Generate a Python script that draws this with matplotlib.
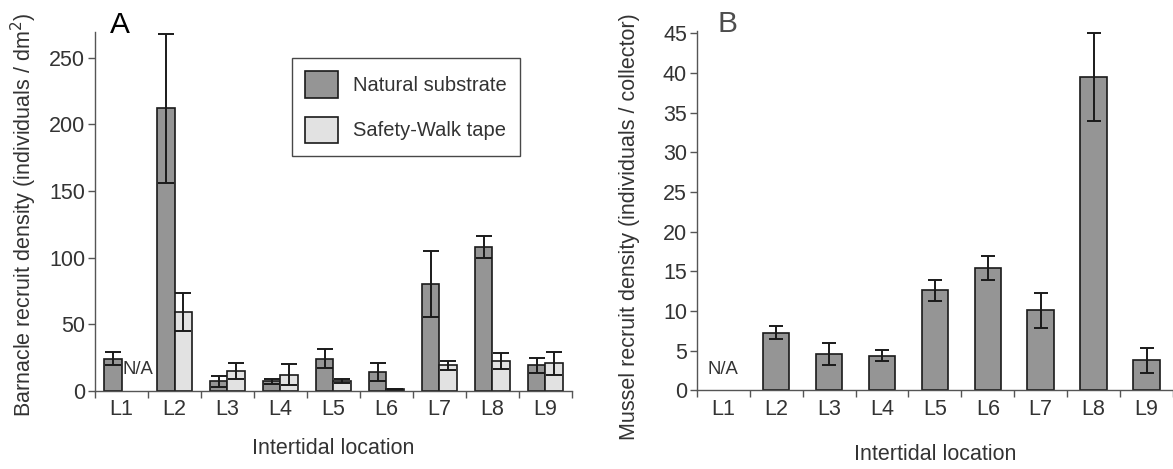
import numpy as np
import matplotlib
matplotlib.use("Agg")
import matplotlib.pyplot as plt

plt.rcParams['font.family'] = ['Liberation Sans', 'DejaVu Sans']

locations = ["L1", "L2", "L3", "L4", "L5", "L6", "L7", "L8", "L9"]

# Panel A: barnacle recruits (individuals / dm^2)
barnacle_natural = [24, 212, 7, 7, 24, 14, 80, 108, 19]
barnacle_natural_err = [5, 56, 4, 2, 7, 7, 25, 8.5, 5.5]
barnacle_tape = [np.nan, 59, 15, 12, 7.5, 1, 19, 22, 20.5]
barnacle_tape_err = [np.nan, 14, 6, 8, 1.5, 0.4, 3.5, 6, 8.5]

# Panel B: mussel recruits (individuals / collector)
mussel = [np.nan, 7.3, 4.6, 4.4, 12.6, 15.4, 10.1, 39.5, 3.8]
mussel_err = [np.nan, 0.8, 1.4, 0.7, 1.3, 1.5, 2.2, 5.6, 1.6]

dark_fill = "#959595"
light_fill = "#e2e2e2"
edge = "#1a1a1a"
axis_col = "#555555"
text_col = "#333333"
FS = 15.5

fig = plt.figure(figsize=(11.73, 4.69), dpi=100)
axA = fig.add_axes([0.081, 0.167, 0.4066, 0.765])
axB = fig.add_axes([0.594, 0.1674, 0.406, 0.7666])

x = np.arange(len(locations))


def style_axis(ax, ymax, yticks):
    for s in ("top", "right"):
        ax.spines[s].set_visible(False)
    for s in ("left", "bottom"):
        ax.spines[s].set_color(axis_col)
        ax.spines[s].set_linewidth(1.0)
    ax.set_xlim(-0.5, len(locations) - 0.5)
    ax.set_ylim(0, ymax)
    ax.set_yticks(yticks)
    ax.set_xticks(np.arange(-0.5, len(locations) + 0.5, 1.0))
    ax.set_xticklabels([])
    ax.set_xticks(x, minor=True)
    ax.set_xticklabels(locations, minor=True)
    ax.tick_params(axis="x", which="major", direction="out", length=5,
                   color=axis_col, width=1.0)
    ax.tick_params(axis="x", which="minor", length=0, pad=6,
                   labelsize=FS, labelcolor=text_col)
    ax.tick_params(axis="y", direction="out", length=5, color=axis_col,
                   width=1.0, labelsize=FS, labelcolor=text_col, pad=2)


# ---- Panel A ----
w = 0.335
err_kw = dict(ecolor=edge, elinewidth=1.4, capsize=6, capthick=1.4)
axA.bar(x - w / 2, barnacle_natural, w, yerr=barnacle_natural_err,
        color=dark_fill, edgecolor=edge, linewidth=1.2,
        error_kw=err_kw, label="Natural substrate", zorder=2)
axA.bar(x + w / 2, barnacle_tape, w, yerr=barnacle_tape_err,
        color=light_fill, edgecolor=edge, linewidth=1.2,
        error_kw=err_kw, label="Safety-Walk tape", zorder=2)
style_axis(axA, 269.5, [0, 50, 100, 150, 200, 250])
axA.set_ylabel("Barnacle recruit density (individuals / dm$^2$)",
               fontsize=FS, color=text_col)
axA.yaxis.set_label_coords(-0.118, 0.49)
axA.set_xlabel("Intertidal location", fontsize=FS, color=text_col)
axA.xaxis.set_label_coords(0.5, -0.132)
axA.text(0.31, 16, "N/A", fontsize=13.3, color=text_col,
         ha="center", va="center")
axA.text(0.031, 0.997, "A", transform=axA.transAxes, fontsize=21.5,
         color="black", ha="left", va="baseline")
leg = axA.legend(loc="upper left", bbox_to_anchor=(0.413, 0.9275),
                 borderaxespad=0, frameon=True, fancybox=False,
                 fontsize=14.5, handlelength=1.65, handleheight=1.65,
                 labelspacing=0.95, handletextpad=0.75, borderpad=0.65)
leg.get_frame().set_edgecolor(edge)
leg.get_frame().set_linewidth(1.0)
for t in leg.get_texts():
    t.set_color(text_col)

# ---- Panel B ----
wb = 0.5
err_kwb = dict(ecolor=edge, elinewidth=1.4, capsize=5, capthick=1.4)
axB.bar(x, mussel, wb, yerr=mussel_err, color=dark_fill,
        edgecolor=edge, linewidth=1.2, error_kw=err_kwb, zorder=2)
style_axis(axB, 45.3, list(range(0, 50, 5)))
axB.set_ylabel("Mussel recruit density (individuals / collector)",
               fontsize=FS, color=text_col)
axB.yaxis.set_label_coords(-0.119, 0.455)
axB.set_xlabel("Intertidal location", fontsize=FS, color=text_col)
axB.xaxis.set_label_coords(0.5, -0.15)
axB.text(0.0, 2.7, "N/A", fontsize=13.3, color=text_col,
         ha="center", va="center")
axB.text(0.044, 0.997, "B", transform=axB.transAxes, fontsize=21.5,
         color="#4d4d4d", ha="left", va="baseline")

fig.savefig("out.png", dpi=100)
